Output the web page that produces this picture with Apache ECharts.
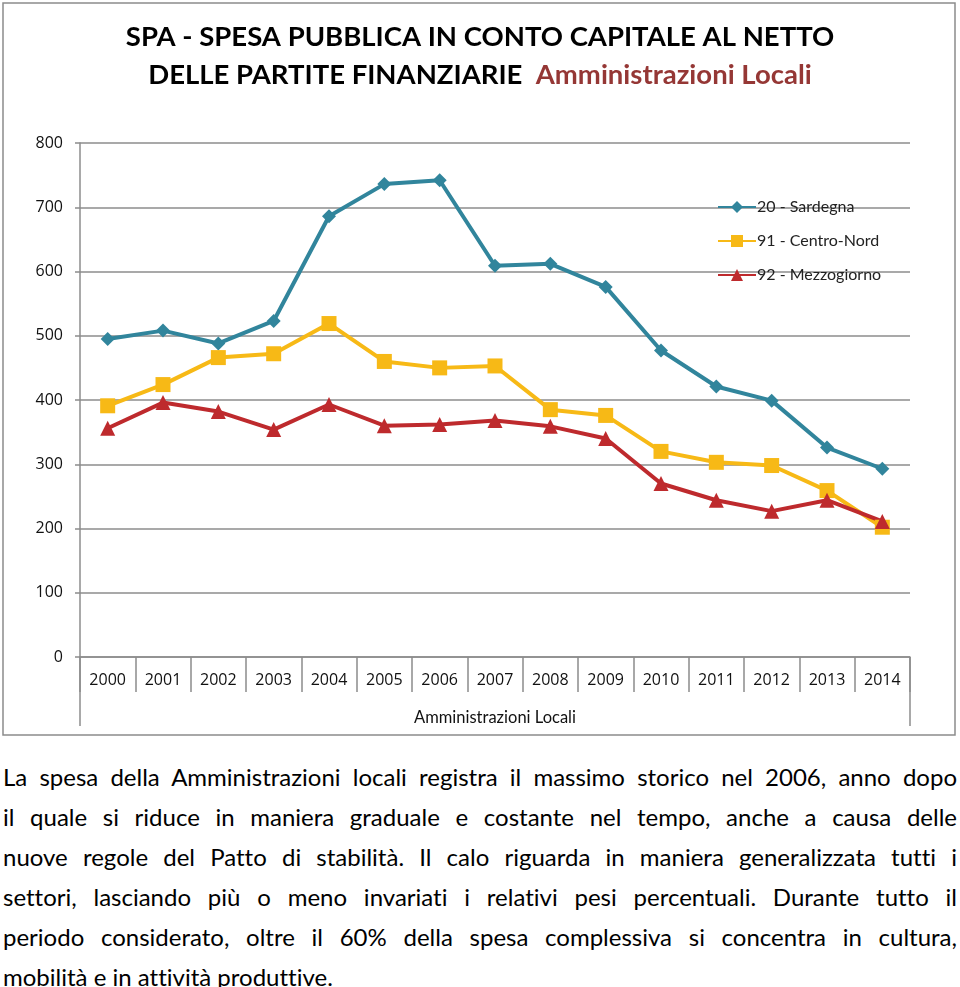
<!DOCTYPE html>
<html>
<head>
<meta charset="utf-8">
<script src="https://cdn.jsdelivr.net/npm/echarts@6/dist/echarts.min.js"></script>
<style>
  html, body { margin: 0; padding: 0; background: #fff; width: 960px; height: 987px; overflow: hidden; }
  #chart { position: absolute; left: 0; top: 0; width: 960px; height: 740px; }
  #text { position: absolute; left: 3px; top: 757px; width: 954px; font-family: Lato, "Open Sans", sans-serif; font-size: 24px; color: #000; font-variant-ligatures: none; }
  #text div { height: 40px; line-height: 40px; white-space: nowrap; text-align: justify; text-align-last: justify; }
  #text div.last { text-align-last: left; }
</style>
</head>
<body>
<div id="chart"></div>
<div id="text">
  <div>La spesa della Amministrazioni locali registra il massimo storico nel 2006, anno dopo</div>
  <div>il quale si riduce in maniera graduale e costante nel tempo, anche a causa delle</div>
  <div>nuove regole del Patto di stabilità. Il calo riguarda in maniera generalizzata tutti i</div>
  <div>settori, lasciando  più o meno invariati i relativi pesi percentuali. Durante tutto il</div>
  <div>periodo considerato, oltre il 60% della  spesa complessiva si concentra in  cultura,</div>
  <div class="last">mobilità e in attività produttive.</div>
</div>
<script>
const years = ['2000','2001','2002','2003','2004','2005','2006','2007','2008','2009','2010','2011','2012','2013','2014'];
const sardegna = [495, 508, 488, 523, 686, 736, 742, 609, 612, 576, 477, 421, 399, 326, 293];
const centroNord = [391, 424, 466, 472, 519, 460, 450, 453, 385, 376, 320, 303, 298, 259, 202];
const mezzogiorno = [356, 396, 382, 354, 393, 360, 362, 368, 359, 340, 270, 244, 227, 244, 211];
const seriesNames = ['20 - Sardegna', '91 - Centro-Nord', '92 - Mezzogiorno'];
const axisGroupLabel = 'Amministrazioni Locali';

const chart = echarts.init(document.getElementById('chart'));
const font = 'Lato, "Open Sans", sans-serif';
const numFont = '"Open Sans", Lato, sans-serif';

chart.setOption({
  animation: false,
  backgroundColor: '#fff',
  textStyle: { fontFamily: font },
  title: {
    left: 'center',
    top: 13,
    text: 'SPA - SPESA PUBBLICA IN CONTO CAPITALE AL NETTO\nDELLE PARTITE FINANZIARIE  {r|Amministrazioni Locali}',
    textStyle: {
      fontFamily: font, fontSize: 27.5, fontWeight: 'bold', color: '#000', lineHeight: 38,
      rich: { r: { fontFamily: font, fontSize: 27.5, fontWeight: 'bold', color: '#953735', lineHeight: 38 } }
    }
  },
  legend: {
    orient: 'vertical',
    left: 712,
    top: 194,
    itemWidth: 38,
    itemHeight: 15,
    itemGap: 18,
    textStyle: { fontFamily: font, fontSize: 16, color: '#222', padding: [0, 0, 0, -4] },
    data: seriesNames
  },
  grid: { left: 80, right: 50, top: 143, bottom: 83, containLabel: false },
  xAxis: {
    type: 'category',
    data: years,
    boundaryGap: true,
    name: axisGroupLabel,
    nameLocation: 'middle',
    nameGap: 52,
    nameTextStyle: { fontFamily: font, fontSize: 16.5, color: '#111' },
    axisLine: { lineStyle: { color: '#8c8c8c', width: 1.5 } },
    axisTick: { show: true, length: 35, lineStyle: { color: '#8c8c8c', width: 1.5 } },
    axisLabel: { fontFamily: numFont, fontSize: 16, color: '#111', margin: 15 }
  },
  yAxis: {
    type: 'value',
    min: 0, max: 800, interval: 100,
    axisLine: { show: true, lineStyle: { color: '#8c8c8c', width: 1.5 } },
    axisTick: { show: true, length: 5, lineStyle: { color: '#8c8c8c', width: 1.5 } },
    axisLabel: { fontFamily: numFont, fontSize: 16, color: '#111', margin: 17 },
    splitLine: { lineStyle: { color: '#8c8c8c', width: 1.5 } }
  },
  graphic: [
    { type: 'rect', shape: { x: 3, y: 3, width: 952, height: 732 }, style: { fill: 'none', stroke: '#8c8c8c', lineWidth: 1.5 }, z: -1 },
    { type: 'line', shape: { x1: 80, y1: 657, x2: 80, y2: 726 }, style: { stroke: '#8c8c8c', lineWidth: 1.5 } },
    { type: 'line', shape: { x1: 910, y1: 657, x2: 910, y2: 726 }, style: { stroke: '#8c8c8c', lineWidth: 1.5 } }
  ],
  series: [
    {
      name: seriesNames[0], type: 'line', data: sardegna,
      symbol: 'diamond', symbolSize: 14,
      lineStyle: { color: '#31859C', width: 4 },
      itemStyle: { color: '#31859C' }
    },
    {
      name: seriesNames[1], type: 'line', data: centroNord,
      symbol: 'rect', symbolSize: 15,
      lineStyle: { color: '#F7B916', width: 4 },
      itemStyle: { color: '#F7B916' }
    },
    {
      name: seriesNames[2], type: 'line', data: mezzogiorno,
      symbol: 'triangle', symbolSize: 15,
      lineStyle: { color: '#BE2A2D', width: 4 },
      itemStyle: { color: '#BE2A2D' }
    }
  ]
});
</script>
</body>
</html>
